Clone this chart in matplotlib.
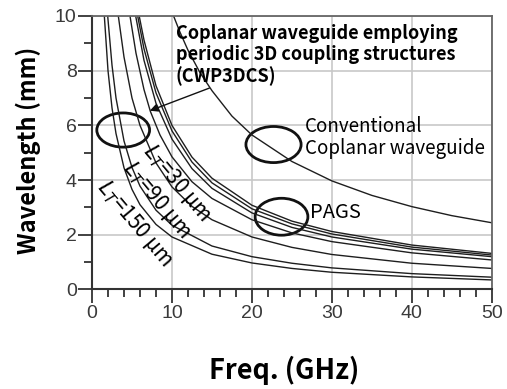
import matplotlib
matplotlib.use('Agg')
import matplotlib.pyplot as plt
from matplotlib.patches import Ellipse
from matplotlib.ticker import MultipleLocator

# conventional coplanar waveguide
f_cpw = [10.2, 11, 12, 13.5, 15, 17.5, 20, 25, 30, 35, 40, 45, 50]
wl_cpw = [10.0, 9.41, 8.75, 7.93, 7.27, 6.34, 5.65, 4.68, 3.97, 3.44, 3.03, 2.70, 2.44]

# upper group of slow-wave curves (PAGS)
f_up1 = [4.75, 5.5, 6.5, 7.3, 8.5, 10, 12.5, 15, 20, 25, 30, 40, 50]
wl_up1 = [10.0, 8.64, 7.31, 6.51, 5.65, 4.85, 3.94, 3.33, 2.55, 2.07, 1.75, 1.34, 1.08]
f_up2 = [5.46, 6.5, 8, 10, 12.5, 15, 20, 25, 30, 40, 50]
wl_up2 = [10.0, 8.38, 6.81, 5.5, 4.42, 3.70, 2.80, 2.27, 1.92, 1.475, 1.20]
f_up3 = [5.71, 6.5, 8, 10, 12.5, 15, 20, 25, 30, 40, 50]
wl_up3 = [10.0, 8.80, 7.19, 5.8, 4.66, 3.90, 2.95, 2.40, 2.03, 1.55, 1.26]
f_up4 = [5.9, 6.5, 8, 10, 12.5, 15, 20, 25, 30, 40, 50]
wl_up4 = [10.0, 9.12, 7.45, 6.0, 4.84, 4.07, 3.08, 2.5, 2.12, 1.625, 1.32]

# CWP3DCS, L_T = 30, 90, 150 um
f_lt30 = [3.29, 4, 5, 6, 8, 10, 12.5, 15, 20, 25, 30, 40, 50]
wl_lt30 = [10.0, 8.5, 7.0, 6.0, 4.63, 3.75, 3.04, 2.55, 1.92, 1.54, 1.28, 0.96, 0.77]
f_lt90 = [1.96, 2.5, 3, 4, 5, 6, 8, 10, 15, 20, 25, 30, 40, 50]
wl_lt90 = [10.0, 8.2, 7.0, 5.43, 4.46, 3.78, 2.9, 2.35, 1.59, 1.2, 0.96, 0.79, 0.58, 0.45]
f_lt150 = [1.54, 2, 2.5, 3, 4, 5, 6, 8, 10, 15, 20, 25, 30, 40, 50]
wl_lt150 = [10.0, 8.0, 6.64, 5.7, 4.45, 3.66, 3.1, 2.38, 1.92, 1.29, 0.97, 0.77, 0.63, 0.46, 0.35]

curves = [(f_cpw, wl_cpw), (f_up1, wl_up1), (f_up2, wl_up2), (f_up3, wl_up3),
          (f_up4, wl_up4), (f_lt30, wl_lt30), (f_lt90, wl_lt90),
          (f_lt150, wl_lt150)]

txt_font = ['Noto Sans CJK KR', 'DejaVu Sans']
tick_col = '#3a3a3a'

fig = plt.figure(figsize=(5.07, 3.89), dpi=100)
ax = fig.add_axes([0.1815, 0.2558, 0.7885, 0.7031])

for f, wl in curves:
    ax.plot(f, wl, color='#1e1e1e', lw=1.0, solid_joinstyle='round')

ax.set_xlim(0, 50)
ax.set_ylim(0, 10)
ax.xaxis.set_major_locator(MultipleLocator(10))
ax.xaxis.set_minor_locator(MultipleLocator(2))
ax.yaxis.set_major_locator(MultipleLocator(2))
ax.yaxis.set_minor_locator(MultipleLocator(1))
ax.grid(True, which='major', color='#c8c8c8', lw=1.2)
ax.set_axisbelow(True)
ax.tick_params(which='major', direction='out', length=10, width=1.3, color='#333333',
               labelsize=14, labelcolor=tick_col, pad=1)
ax.tick_params(which='minor', direction='out', length=6, width=1.3, color='#333333')
for lbl in ax.get_xticklabels() + ax.get_yticklabels():
    lbl.set_family('Liberation Sans')
for side in ['left', 'bottom']:
    ax.spines[side].set_color('#333333')
    ax.spines[side].set_linewidth(1.5)
for side in ['top', 'right']:
    ax.spines[side].set_color('#666666')
    ax.spines[side].set_linewidth(1.3)

fig.text(0.56, 0.049, 'Freq. (GHz)', ha='center', va='center', fontsize=19.5,
         fontweight='bold', family=txt_font)
fig.text(0.055, 0.614, 'Wavelength (mm)', ha='center', va='center', fontsize=17,
         fontweight='bold', family=txt_font, rotation=90)

# annotations
ax.text(10.47, 9.72, 'Coplanar waveguide employing\nperiodic 3D coupling structures\n(CWP3DCS)',
        ha='left', va='top', fontsize=13, fontweight='bold', family=txt_font,
        linespacing=1.15)
ax.annotate('', xy=(6.9, 6.5), xytext=(15.0, 7.4),
            arrowprops=dict(arrowstyle='-|>', color='#111111', lw=1.0,
                            mutation_scale=12))
ax.text(26.6, 6.35, 'Conventional\nCoplanar waveguide', ha='left', va='top',
        fontsize=13.5, fontweight='medium', family=txt_font, linespacing=1.1)
ax.text(27.3, 2.83, 'PAGS', ha='left', va='center', fontsize=14.5,
        fontweight='medium', family=txt_font)

for xc, yc, w, h in [(3.9, 5.83, 6.6, 1.25), (22.7, 5.3, 6.9, 1.32), (23.7, 2.66, 6.6, 1.35)]:
    ax.add_patch(Ellipse((xc, yc), w, h, fill=False, ec='#111111', lw=2.0))

lt_labels = [(10.6, 3.88, r'$L_T$=30 µm'), (8.2, 3.27, r'$L_T$=90 µm'), (5.35, 2.43, r'$L_T$=150 µm')]
for x, y, s in lt_labels:
    ax.text(x, y, s, ha='center', va='center', fontsize=15, family=txt_font,
            rotation=-50, rotation_mode='anchor')

fig.savefig('out.png', dpi=100)
